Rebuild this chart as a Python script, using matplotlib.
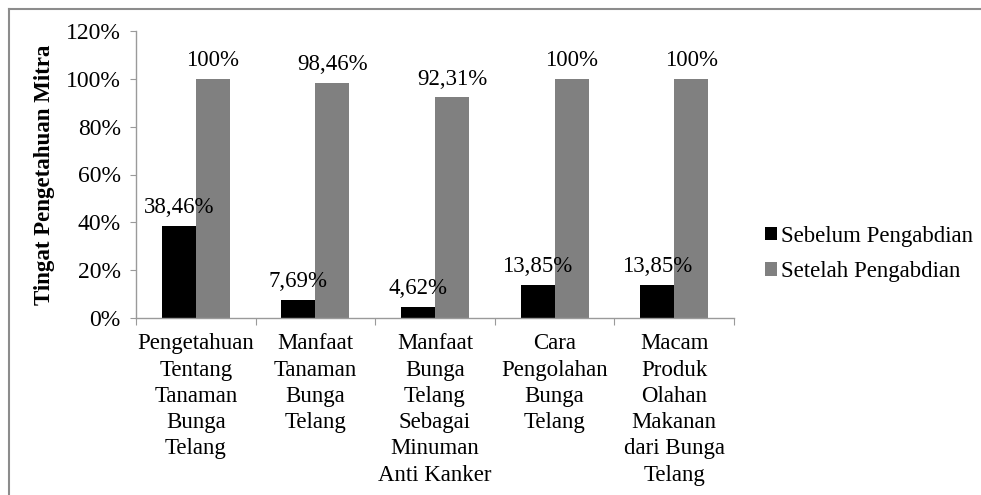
import matplotlib
matplotlib.use("Agg")
import matplotlib.pyplot as plt
import numpy as np
from matplotlib.lines import Line2D

# ─── DATA ───────────────────────────────────────────────────────────────────

categories = [
    "Pengetahuan\nTentang\nTanaman\nBunga\nTelang",
    "Manfaat\nTanaman\nBunga\nTelang",
    "Manfaat\nBunga\nTelang\nSebagai\nMinuman\nAnti Kanker",
    "Cara\nPengolahan\nBunga\nTelang",
    "Macam\nProduk\nOlahan\nMakanan\ndari Bunga\nTelang",
]
sebelum = [38.46, 7.69, 4.62, 13.85, 13.85]
setelah = [100, 98.46, 92.31, 100, 100]
sebelum_labels = ["38,46%", "7,69%", "4,62%", "13,85%", "13,85%"]
setelah_labels = ["100%", "98,46%", "92,31%", "100%", "100%"]
series_names = ["Sebelum Pengabdian", "Setelah Pengabdian"]
y_ticks = [0, 20, 40, 60, 80, 100, 120]

# ─── STYLE ──────────────────────────────────────────────────────────────────

plt.rcParams["font.family"] = ["Liberation Serif", "DejaVu Serif"]
FS = 16.5
AXIS_GREY = "#9a9a9a"
BLACK = "#000000"
GREY = "#808080"

fig = plt.figure(figsize=(9.81, 4.95), dpi=100)
ax = fig.add_axes([136 / 981, 1 - 318 / 495, (734 - 136) / 981, (318 - 31) / 495])

x = np.arange(len(categories))
w = 0.284
b1 = ax.bar(x - w / 2, sebelum, w, color=BLACK, label=series_names[0])
b2 = ax.bar(x + w / 2, setelah, w, color=GREY, label=series_names[1])

for bars, labels in ((b1, sebelum_labels), (b2, setelah_labels)):
    for bar, lab in zip(bars, labels):
        ax.annotate(lab, (bar.get_x() + bar.get_width() / 2, bar.get_height()),
                    xytext=(0, 13), textcoords="offset points",
                    ha="center", va="center", fontsize=FS)

ax.set_xlim(-0.5, len(categories) - 0.5)
ax.set_ylim(0, 120)
ax.set_yticks(y_ticks)
ax.set_yticklabels([f"{t}%" for t in y_ticks], fontsize=17)

# category labels between boundary ticks
ax.set_xticks(np.arange(-0.5, len(categories), 1.0))
ax.set_xticklabels([])
ax.set_xticks(x, minor=True)
ax.set_xticklabels(categories, minor=True, fontsize=FS, linespacing=1.33)
ax.tick_params(axis="x", which="minor", length=0, pad=11)
ax.tick_params(axis="x", which="major", length=5, color=AXIS_GREY, direction="out")
ax.tick_params(axis="y", length=4, color=AXIS_GREY, direction="out", pad=7)

for side in ("top", "right"):
    ax.spines[side].set_visible(False)
for side in ("left", "bottom"):
    ax.spines[side].set_color(AXIS_GREY)
    ax.spines[side].set_linewidth(1)

ax.set_ylabel("Tingat Pengetahuan Mitra", fontsize=FS, fontweight="bold", labelpad=8)

fig.legend(handles=[b1, b2], labels=series_names, loc="center left",
           bbox_to_anchor=(744 / 981, 1 - 254 / 495), frameon=False,
           fontsize=FS, handlelength=0.55, handleheight=0.55,
           handletextpad=0.15, labelspacing=0.65)

# outer frame (only left and top edges show in the reference crop)
fx, fy = 8.5 / 981, 1 - 8.5 / 495
fig.lines.append(Line2D([fx, fx], [0, fy], transform=fig.transFigure,
                        color="#8c8c8c", linewidth=1.5))
fig.lines.append(Line2D([fx, 1], [fy, fy], transform=fig.transFigure,
                        color="#8c8c8c", linewidth=1.5))

fig.savefig("out.png", dpi=100)
